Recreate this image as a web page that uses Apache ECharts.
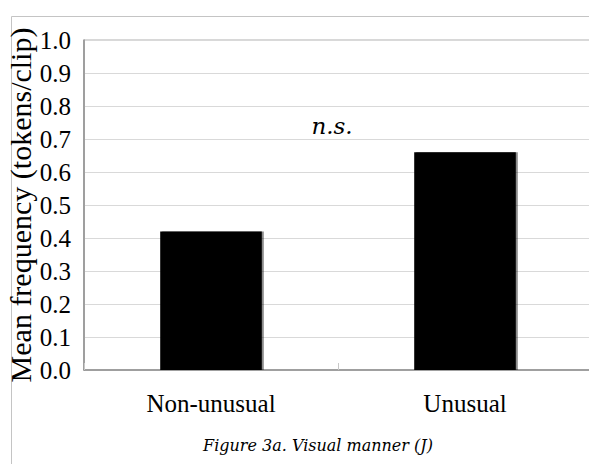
<!DOCTYPE html>
<html>
<head>
<meta charset="utf-8">
<script src="https://cdn.jsdelivr.net/npm/echarts@6/dist/echarts.min.js"></script>
<style>
html,body{margin:0;padding:0;background:#fff;}
#chart{width:589px;height:464px;}
</style>
</head>
<body>
<div id="chart"></div>
<script>
var categories = ['Non-unusual', 'Unusual'];
var meanFrequency = [0.42, 0.66];
var yTicks = [0.0, 0.1, 0.2, 0.3, 0.4, 0.5, 0.6, 0.7, 0.8, 0.9, 1.0];
var yAxisTitle = 'Mean frequency (tokens/clip)';
var annotation = 'n.s.';
var caption = 'Figure 3a. Visual manner (J)';

var serif = "'Liberation Serif', 'Times New Roman', serif";
var chart = echarts.init(document.getElementById('chart'), null, {renderer: 'svg'});
chart.setOption({
  backgroundColor: '#fff',
  animation: false,
  grid: {
    left: 84, top: 40, width: 508, height: 330,
    containLabel: false, outerBoundsMode: 'none',
    show: true, borderColor: '#b0b0b0', borderWidth: 1, backgroundColor: 'transparent'
  },
  xAxis: {
    type: 'category',
    data: categories,
    boundaryGap: true,
    axisLine: {lineStyle: {color: '#8c8c8c', width: 1.5}},
    axisTick: {show: true, inside: true, length: 7, lineStyle: {color: '#c8c8c8'}},
    axisLabel: {fontFamily: serif, fontSize: 25, color: '#000', margin: 21}
  },
  yAxis: {
    type: 'value',
    min: yTicks[0], max: yTicks[yTicks.length - 1], interval: 0.1,
    name: yAxisTitle,
    nameLocation: 'middle',
    nameRotate: 90,
    nameGap: 49,
    nameMoveOverlap: false,
    nameTextStyle: {fontFamily: serif, fontSize: 30, color: '#000'},
    axisLine: {show: true, lineStyle: {color: '#8c8c8c', width: 1.5}},
    axisTick: {show: false},
    axisLabel: {
      fontFamily: serif, fontSize: 25, color: '#000', margin: 13,
      formatter: function (v) { return v.toFixed(1); }
    },
    splitLine: {show: true, lineStyle: {color: '#d9d9d9', width: 1}}
  },
  series: [{
    type: 'bar',
    data: meanFrequency,
    barWidth: '40%',
    itemStyle: {color: '#000', shadowColor: 'rgba(0,0,0,0.45)', shadowOffsetX: 2, shadowOffsetY: 0, shadowBlur: 1}
  }],
  graphic: [
    {type: 'rect', shape: {x: 11.5, y: 16.5, width: 620, height: 500},
     style: {fill: 'none', stroke: '#c4c4c4', lineWidth: 1}, silent: true, z: -10},
    {type: 'text', x: 332, y: 126, style: {text: annotation, fontFamily: 'DejaVu Serif', fontStyle: 'italic', fontSize: 23, fill: '#000', align: 'center', verticalAlign: 'middle'}},
    {type: 'text', x: 318, y: 445, style: {text: caption, fontFamily: 'DejaVu Serif', fontStyle: 'italic', fontSize: 16, fill: '#000', align: 'center', verticalAlign: 'middle'}}
  ]
});
</script>
</body>
</html>
